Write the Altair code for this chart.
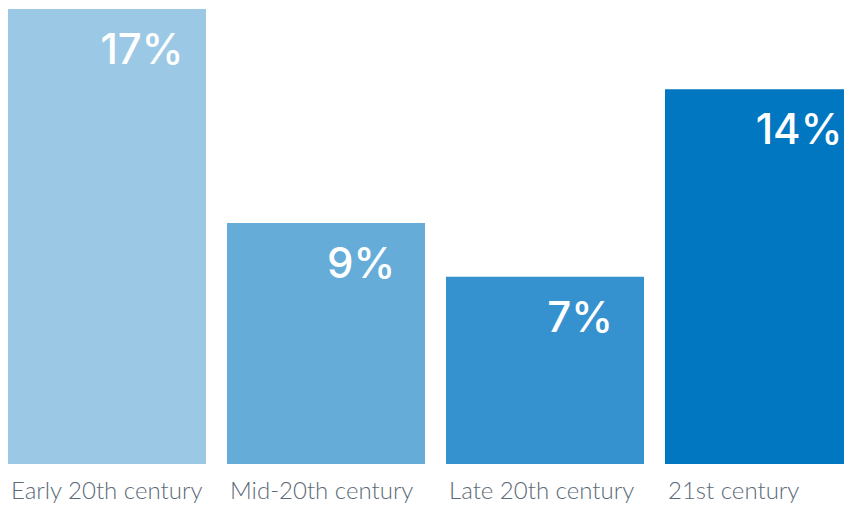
import altair as alt
import pandas as pd

categories = ["Early 20th century", "Mid-20th century", "Late 20th century", "21st century"]
values = [17, 9, 7, 14]
labels = ["17%", "9%", "7%", "14%"]
colors = ["#9bc9e5", "#65add8", "#3592cf", "#0077c0"]

df = pd.DataFrame({"era": categories, "value": values, "label": labels})

x = alt.X(
    "era:N",
    sort=categories,
    scale=alt.Scale(range=[0, 855], paddingInner=21 / 219, paddingOuter=0),
    axis=alt.Axis(
        title=None, labelAngle=0, labelAlign="left", labelOffset=-96,
        labelPadding=34, labelBaseline="alphabetic", ticks=False, tickSize=0,
        domain=False, labelFont="Lato", labelFontWeight=300, labelFontSize=24,
        labelColor="#5c6a78", labelLimit=400,
    ),
)
y = alt.Y("value:Q", scale=alt.Scale(domain=[0, 17], nice=False), axis=None)

bars = alt.Chart(df).mark_bar().encode(
    x=x,
    y=y,
    color=alt.Color("era:N", scale=alt.Scale(domain=categories, range=colors), legend=None),
)

text = alt.Chart(df).mark_text(
    align="center", baseline="alphabetic", dx=35, dy=55,
    font="Inter", fontWeight=500, fontSize=42, color="white",
).encode(x=x, y=y, text="label:N")

chart = (bars + text).properties(
    width=836, height=455,
    padding={"left": 0, "top": 1, "right": 0, "bottom": 39},
    autosize=alt.AutoSizeParams(type="none"),
).configure_view(stroke=None)

chart.save("out.html", embed_options={"renderer": "svg", "actions": False})
